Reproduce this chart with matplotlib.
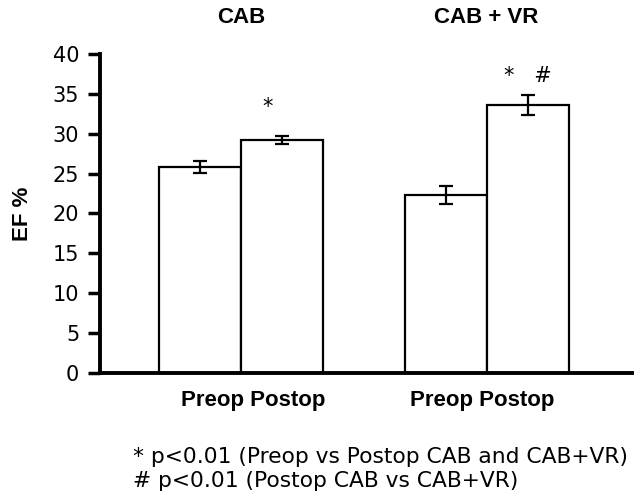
import matplotlib
matplotlib.use("Agg")
import matplotlib.pyplot as plt
import numpy as np

groups = ["CAB", "CAB + VR"]
phases = ["Preop", "Postop"]
ef_mean = [25.8, 29.2, 22.3, 33.6]
ef_err = [0.75, 0.55, 1.1, 1.25]
marks = ["", "*", "", "*   #"]
footnotes = [
    "* p<0.01 (Preop vs Postop CAB and CAB+VR)",
    "# p<0.01 (Postop CAB vs CAB+VR)",
]

plt.rcParams["font.family"] = ["DejaVu Sans"]
bold = ["Liberation Sans", "DejaVu Sans"]

fig = plt.figure(figsize=(6.35, 4.97), dpi=100)
ax = fig.add_axes([0.1575, 0.2495, 0.8375, 0.642])

pos = np.array([0, 1, 3, 4])
ax.bar(pos, ef_mean, width=1.0, color="white", edgecolor="black", linewidth=1.6,
       yerr=ef_err, capsize=5, error_kw={"elinewidth": 1.6, "capthick": 1.6})

# significance marks
mark_x = [None, 0.82, None, 4.0]
mark_y = [None, 33.4, None, 37.2]
for m, mx, my in zip(marks, mark_x, mark_y):
    if m:
        ax.text(mx, my, m, ha="center", va="center", fontsize=15)

ax.set_xlim(-1.22, 5.27)
ax.set_ylim(0, 40)
ax.set_yticks(np.arange(0, 41, 5))
ax.tick_params(axis="y", labelsize=15, length=9, width=2.5, direction="out", pad=6)
ax.set_xticks([])
for side in ["top", "right"]:
    ax.spines[side].set_visible(False)
for side in ["left", "bottom"]:
    ax.spines[side].set_linewidth(2.8)
ax.set_ylabel("EF %", fontsize=16, fontweight="bold", family=bold, labelpad=14)

# group headings and phase labels
for g, center in zip(groups, [0.5, 3.49]):
    ax.text(center, 1.115, g, transform=ax.get_xaxis_transform(), ha="center",
            va="center", fontsize=16, fontweight="bold", family=bold)
for center in [0.65, 3.44]:
    ax.text(center, -0.085, " ".join(phases), transform=ax.get_xaxis_transform(),
            ha="center", va="center", fontsize=16, fontweight="bold", family=bold)

fig.text(0.21, 0.08, footnotes[0], ha="left", va="center", fontsize=15.7)
fig.text(0.21, 0.032, footnotes[1], ha="left", va="center", fontsize=15.7)

fig.savefig("out.png", dpi=100)
